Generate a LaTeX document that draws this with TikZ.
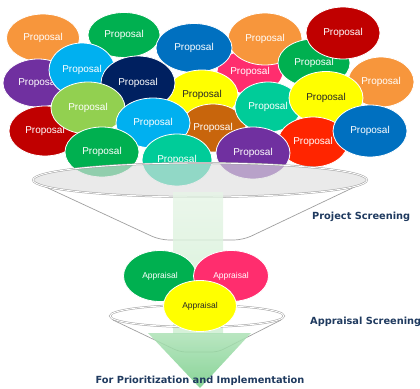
\documentclass[tikz,border=0pt]{standalone}
\usepackage{fontspec}
\setmainfont{Liberation Sans}
\newfontfamily\labfont{DejaVu Sans}
\usetikzlibrary{shapes.geometric}
\definecolor{cOrange}{HTML}{F7963C}
\definecolor{cGreen}{HTML}{00B050}
\definecolor{cBlue}{HTML}{0070C0}
\definecolor{cPurple}{HTML}{7030A0}
\definecolor{cCyan}{HTML}{00B0F0}
\definecolor{cNavy}{HTML}{002060}
\definecolor{cYellow}{HTML}{FFFF00}
\definecolor{cLGreen}{HTML}{92D050}
\definecolor{cDRed}{HTML}{C00000}
\definecolor{cBrown}{HTML}{C8650C}
\definecolor{cTeal}{HTML}{00CC99}
\definecolor{cPink}{HTML}{FF2D6E}
\definecolor{cRed}{HTML}{FF2500}
\definecolor{cText}{HTML}{1F3A5F}
\definecolor{cBandTop}{HTML}{E6F5E6}
\definecolor{cBandBot}{HTML}{CCEDCF}
\definecolor{cHeadTop}{HTML}{ADE2B6}
\definecolor{cHeadBot}{HTML}{74CC86}
\tikzset{
  prop/.style={ellipse, draw=white, line width=0.8pt, inner sep=0pt,
    text=white, font=\fontsize{10}{12}\selectfont},
  appr/.style={ellipse, draw=white, line width=0.8pt, inner sep=0pt,
    text=white, font=\fontsize{8.5}{10}\selectfont,
    minimum width=73, minimum height=51},
  dark/.style={text=black!85},
  rim/.style={draw=gray!75, double=white, double distance=0.9pt, line width=0.5pt},
  cone/.style={draw=gray!75, line width=0.7pt, rounded corners=9},
  lab/.style={text=cText, font=\labfont\bfseries\fontsize{9.8}{12}\selectfont, inner sep=0pt}
}
\begin{document}
\begin{tikzpicture}[x=1pt,y=-1pt]
\useasboundingbox (0,0) rectangle (420,388);
% proposals (back to front)
\node[prop, fill=cPink, minimum width=66, minimum height=44] (p01) at (250,72) {Proposal};
\node[prop, fill=cOrange, minimum width=74, minimum height=52] (p02) at (265,39) {Proposal};
\node[prop, fill=cOrange, minimum width=66, minimum height=50] (p03) at (381,82) {Proposal};
\node[prop, fill=cGreen, minimum width=72, minimum height=48] (p04) at (314,63) {Proposal};
\node[prop, fill=cDRed, minimum width=74, minimum height=52] (p05) at (343,33) {Proposal};
\node[prop, fill=cOrange, minimum width=73, minimum height=48] (p06) at (43,38) {Proposal};
\node[prop, fill=cGreen, minimum width=72, minimum height=45] (p07) at (124,35) {Proposal};
\node[prop, fill=cBlue, minimum width=76, minimum height=49] (p08) at (194,48) {Proposal};
\node[prop, fill=cPurple, minimum width=70, minimum height=48] (p09) at (38,83) {Proposal};
\node[prop, fill=cCyan, minimum width=66, minimum height=54] (p10) at (82,70) {Proposal};
\node[prop, fill=cYellow, dark, minimum width=72, minimum height=50] (p11) at (202,95) {Proposal};
\node[prop, fill=cBrown, minimum width=66, minimum height=48] (p12) at (213,128) {Proposal};
\node[prop, fill=cDRed, minimum width=72, minimum height=50] (p13) at (45,131) {Proposal};
\node[prop, fill=cNavy, minimum width=74, minimum height=54] (p14) at (138,83) {Proposal};
\node[prop, fill=cLGreen, minimum width=74, minimum height=52] (p15) at (88,108) {Proposal};
\node[prop, fill=cTeal, minimum width=66, minimum height=50] (p16) at (268,107) {Proposal};
\node[prop, fill=cYellow, dark, minimum width=74, minimum height=53] (p17) at (326,98) {Proposal};
\node[prop, fill=cRed, minimum width=70, minimum height=50] (p18) at (313,142) {Proposal};
\node[prop, fill=cBlue, minimum width=74, minimum height=52] (p19) at (370,131) {Proposal};
\node[prop, fill=cCyan, minimum width=74, minimum height=50] (p20) at (153,123) {Proposal};
\node[prop, fill=cGreen, minimum width=74, minimum height=50] (p21) at (102,152) {Proposal};
\node[prop, fill=cTeal, minimum width=70, minimum height=52] (p22) at (177,160) {Proposal};
\node[prop, fill=cPurple, minimum width=74, minimum height=52] (p23) at (253,153) {Proposal};
% funnel 1
\coordinate (f1l) at (35,182);
\coordinate (f1bl) at (160,240);
\coordinate (f1br) at (243,240);
\coordinate (f1r) at (365,182);
\draw[cone] (f1l) -- (f1bl) -- (f1br) -- (f1r);
\node[ellipse, rim, fill=gray!25, fill opacity=0.65, minimum width=334, minimum height=34, inner sep=0pt] (rim1) at (200,180) {};
% green arrow shaft
\begin{scope}[opacity=0.8]
\shade[top color=cBandTop, bottom color=cBandBot] (173,192) rectangle (223,333);
\end{scope}
% funnel 2
\coordinate (f2l) at (113,320);
\coordinate (f2bl) at (180,352);
\coordinate (f2br) at (218,352);
\coordinate (f2r) at (281,320);
\draw[cone, rounded corners=6] (f2l) -- (f2bl) -- (f2br) -- (f2r);
\node[ellipse, rim, minimum width=174, minimum height=22, inner sep=0pt] (rim2) at (197,316) {};
% green arrow head
\begin{scope}[opacity=0.85]
\shade[top color=cHeadTop, bottom color=cHeadBot] (148,333) -- (251,333) -- (200,388) -- cycle;
\end{scope}
% appraisals
\node[appr, fill=cGreen] (a1) at (160,276) {Appraisal};
\node[appr, fill=cPink, minimum width=75] (a2) at (231,276) {Appraisal};
\node[appr, fill=cYellow, dark] (a3) at (200,306) {Appraisal};
% labels
\node[lab, anchor=west] (t1) at (312,217) {Project Screening};
\node[lab, anchor=west] (t2) at (310,322) {Appraisal Screening};
\node[lab] (t3) at (200,381) {For Prioritization and Implementation};
\end{tikzpicture}
\end{document}
